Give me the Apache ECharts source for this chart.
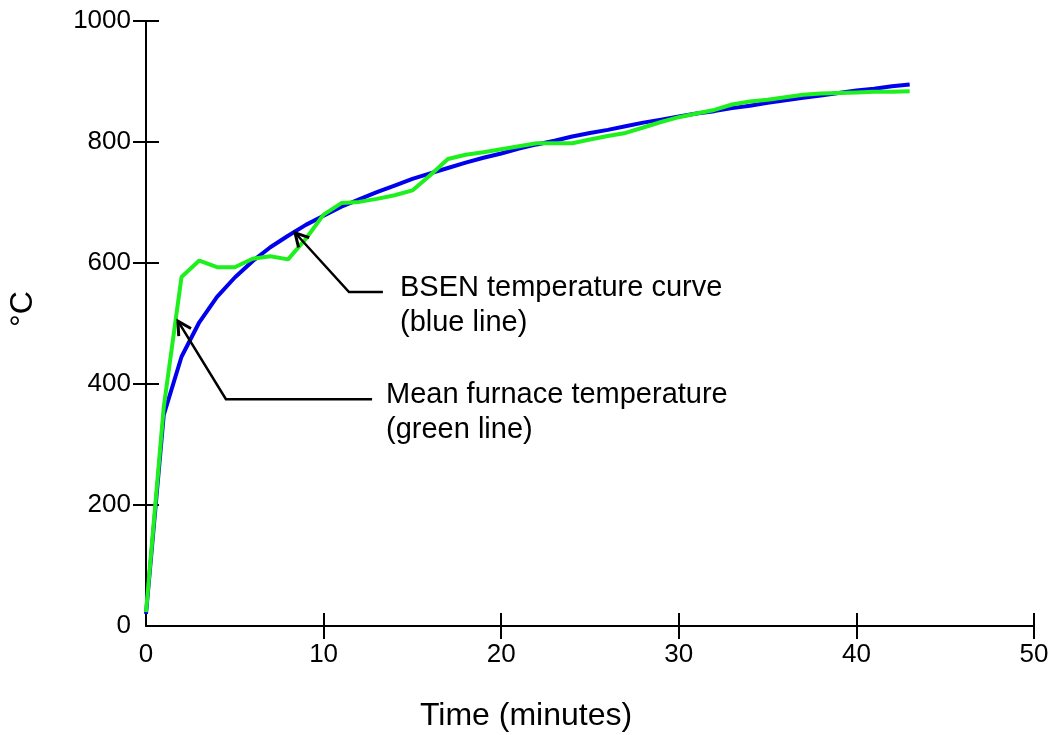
<!DOCTYPE html>
<html>
<head>
<meta charset="utf-8">
<script src="https://cdn.jsdelivr.net/npm/echarts@6/dist/echarts.min.js"></script>
<style>
html,body{margin:0;padding:0;background:#fff;}
#chart{width:1055px;height:735px;}
</style>
</head>
<body>
<div id="chart"></div>
<script>
// Time in minutes
const minutes = [0,1,2,3,4,5,6,7,8,9,10,11,12,13,14,15,16,17,18,19,20,21,22,23,24,25,26,27,28,29,30,31,32,33,34,35,36,37,38,39,40,41,42,43];
// BSEN temperature curve (blue line), °C
const bsenTemp = [20,349,445,502,544,576,603,626,645,663,678,693,705,717,728,739,748,757,766,774,781,789,796,802,809,815,820,826,832,837,842,847,851,856,860,865,869,873,877,881,885,888,892,895];
// Mean furnace temperature (green line), °C
const furnaceTemp = [23,362,577,604,593,593,607,611,606,640,680,699,701,706,712,720,745,772,779,783,788,793,798,798,798,804,810,815,824,833,841,847,853,862,867,870,874,878,880,881,882,883,883,884];
// Tick labels
const xTicks = [0,10,20,30,40,50];
const yTicks = [0,200,400,600,800,1000];

const FONT = 'Liberation Sans, Arial, Helvetica, sans-serif';
const chart = echarts.init(document.getElementById('chart'));

const xBase = {type:'value', min:0, max:50, interval:10, splitLine:{show:false}};
const yBase = {type:'value', min:0, max:1000, interval:200, splitLine:{show:false}};
const plain = v => String(v);

chart.setOption({
  backgroundColor:'#fff',
  animation:false,
  grid:{left:146,right:21,top:21,bottom:109,containLabel:false},
  xAxis:[
    Object.assign({}, xBase, {
      position:'bottom',
      axisLine:{show:true,onZero:false,lineStyle:{color:'#000',width:2}},
      axisTick:{show:true,inside:false,length:13,lineStyle:{color:'#000',width:2},customValues:xTicks.filter(v=>v>0)},
      axisLabel:{show:true,margin:16,color:'#000',fontSize:26,fontFamily:FONT,customValues:xTicks,formatter:plain}
    }),
    Object.assign({}, xBase, {
      position:'bottom',
      axisLine:{show:false},
      axisTick:{show:true,inside:true,length:13,lineStyle:{color:'#000',width:2},customValues:xTicks.filter(v=>v>0)},
      axisLabel:{show:false}
    })
  ],
  yAxis:[
    Object.assign({}, yBase, {
      position:'left',
      axisLine:{show:true,onZero:false,lineStyle:{color:'#000',width:2}},
      axisTick:{show:true,inside:false,length:13,lineStyle:{color:'#000',width:2},customValues:yTicks.filter(v=>v>0)},
      axisLabel:{show:true,margin:15,color:'#000',fontSize:26,fontFamily:FONT,customValues:yTicks,formatter:plain}
    }),
    Object.assign({}, yBase, {
      position:'left',
      axisLine:{show:false},
      axisTick:{show:true,inside:true,length:13,lineStyle:{color:'#000',width:2},customValues:yTicks.filter(v=>v>0)},
      axisLabel:{show:false}
    })
  ],
  series:[
    {name:'BSEN temperature curve',type:'line',xAxisIndex:0,yAxisIndex:0,
     data:minutes.map((m,i)=>[m,bsenTemp[i]]),showSymbol:false,
     lineStyle:{color:'#0000ee',width:4},z:2},
    {name:'Mean furnace temperature',type:'line',xAxisIndex:0,yAxisIndex:0,
     data:minutes.map((m,i)=>[m,furnaceTemp[i]]),showSymbol:false,
     lineStyle:{color:'#1ef01e',width:4},z:3}
  ]
});

// Annotations: anchor points given in data coordinates
const arrows = [
  {tip:[8.39,650], elbow:[11.43,552], end:[13.34,552]},
  {tip:[1.80,504], elbow:[4.50,375], end:[12.73,375]}
];
const labels = [
  {x:400,y:288,text:'BSEN temperature curve'},
  {x:400,y:323,text:'(blue line)'},
  {x:386,y:395,text:'Mean furnace temperature'},
  {x:386,y:430,text:'(green line)'}
];

const g = [];
arrows.forEach(a=>{
  const tp = chart.convertToPixel({gridIndex:0}, a.tip);
  const ep = chart.convertToPixel({gridIndex:0}, a.elbow);
  const np = chart.convertToPixel({gridIndex:0}, a.end);
  g.push({type:'polyline',shape:{points:[np,ep,tp]},style:{stroke:'#000',lineWidth:2.5,fill:null},z:10});
  const ang = Math.atan2(ep[1]-tp[1], ep[0]-tp[0]);
  const L = 15, spread = 0.5;
  const p1 = [tp[0]+L*Math.cos(ang+spread), tp[1]+L*Math.sin(ang+spread)];
  const p2 = [tp[0]+L*Math.cos(ang-spread), tp[1]+L*Math.sin(ang-spread)];
  g.push({type:'polyline',shape:{points:[p1,tp,p2]},style:{stroke:'#000',lineWidth:3,fill:null},z:10});
});
labels.forEach(l=>{
  g.push({type:'text',x:l.x,y:l.y,style:{text:l.text,fontSize:29,fontFamily:FONT,fill:'#000',textVerticalAlign:'middle',textAlign:'left'},z:10});
});
g.push({type:'text',x:526,y:716,style:{text:'Time (minutes)',fontSize:32,fontFamily:FONT,fill:'#000',textAlign:'center',textVerticalAlign:'middle'},z:10});
g.push({type:'text',x:23,y:309,rotation:Math.PI/2,style:{text:'°C',fontSize:32,fontFamily:FONT,fill:'#000',textAlign:'center',textVerticalAlign:'middle'},z:10});
chart.setOption({graphic:g});
</script>
</body>
</html>
